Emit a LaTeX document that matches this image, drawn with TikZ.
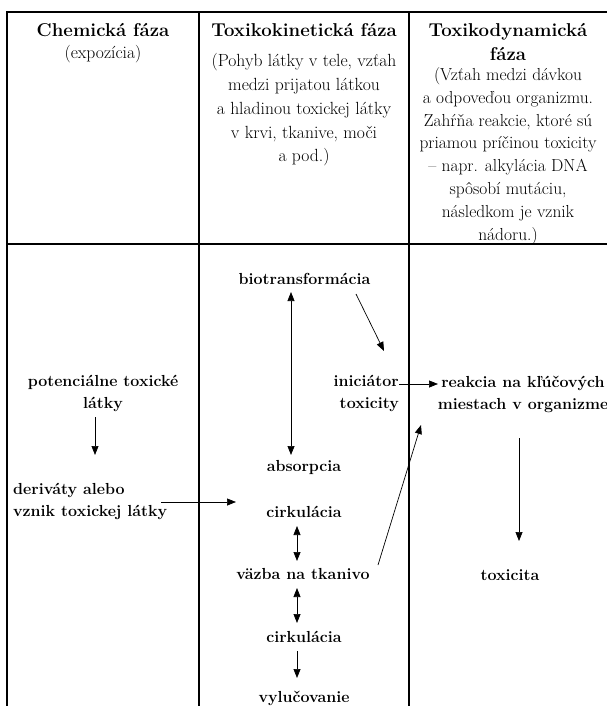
\documentclass[tikz,border=0pt]{standalone}
\usepackage{fontspec}
\usetikzlibrary{arrows.meta}
\begin{document}
\begin{tikzpicture}[x=1pt,y=-1pt]
\tikzset{
 gridline/.style={line width=1.1pt},
 title/.style={font=\bfseries\fontsize{18.6}{23.5}\selectfont, inner sep=0pt, align=center},
 sub/.style={font=\fontsize{17.6}{23.7}\selectfont, inner sep=0pt, align=center},
 subr/.style={font=\fontsize{17.4}{22.8}\selectfont, inner sep=0pt, align=center},
 lbl/.style={font=\bfseries\fontsize{16}{22}\selectfont, inner sep=0pt, align=center},
 tip/.tip={Triangle[length=9pt,width=7pt]},
 arr/.style={line width=0.7pt, -tip},
 darr/.style={line width=0.7pt, tip-tip},
}
\useasboundingbox (0,0) rectangle (607,706);
% table
\draw[gridline] (7,706) -- (7,12) -- (607,12);
\draw[gridline] (199,12) -- (199,706);
\draw[gridline] (409,12) -- (409,706);
\draw[gridline] (7,244) -- (607,244);
% header
\node[title] (h1) at (103,30.5) {Chemická fáza};
\node[sub] (h1s) at (103,54) {(expozícia)};
\node[title] (h2) at (304,30.5) {Toxikokinetická fáza};
\node[sub] (h2s) at (304,110) {(Pohyb látky v tele, vzťah\\medzi prijatou látkou\\a hladinou toxickej látky\\v krvi, tkanive, moči\\a pod.)};
\node[title] (h3) at (508,42) {Toxikodynamická\\fáza};
\node[subr] (h3s) at (508,156) {(Vzťah medzi dávkou\\a odpoveďou organizmu.\\Zahŕňa reakcie, ktoré sú\\priamou príčinou toxicity\\– napr. alkylácia DNA\\spôsobí mutáciu,\\následkom je vznik\\nádoru.)};
% body nodes
\node[lbl] (pot) at (103,393) {potenciálne toxické\\látky};
\node[lbl, align=left, anchor=west] (der) at (13,501) {deriváty alebo\\vznik toxickej látky};
\node[lbl] (bio) at (304.5,279) {biotransformácia};
\node[lbl] (abs) at (304,467) {absorpcia};
\node[lbl] (cir1) at (304,512) {cirkulácia};
\node[lbl] (vaz) at (303,574) {väzba na tkanivo};
\node[lbl] (cir2) at (304,637) {cirkulácia};
\node[lbl] (vyl) at (304,698) {vylučovanie};
\node[lbl, align=right, anchor=east] (ini) at (399,393) {iniciátor\\toxicity};
\node[lbl] (rea) at (523,394) {reakcia na kľúčových\\miestach v organizme};
\node[lbl] (tox) at (510,575) {toxicita};
% connector end points
\coordinate (a1s) at (95,417);  \coordinate (a1e) at (95,455);
\coordinate (a2s) at (161,502); \coordinate (a2e) at (236,502);
\coordinate (a3s) at (291,292); \coordinate (a3e) at (291,455);
\coordinate (a4s) at (297,526); \coordinate (a4e) at (297,561);
\coordinate (a5s) at (297,588); \coordinate (a5e) at (297,623);
\coordinate (a6s) at (297,651); \coordinate (a6e) at (297,678);
\coordinate (a7s) at (356,294); \coordinate (a7e) at (384,351);
\coordinate (a8s) at (399,384); \coordinate (a8e) at (438,384);
\coordinate (a9s) at (378,565); \coordinate (a9e) at (421,425);
\coordinate (a10s) at (519,438); \coordinate (a10e) at (519,541);
% connectors
\draw[arr] (a1s) -- (a1e);
\draw[arr] (a2s) -- (a2e);
\draw[darr] (a3s) -- (a3e);
\draw[darr] (a4s) -- (a4e);
\draw[darr] (a5s) -- (a5e);
\draw[arr] (a6s) -- (a6e);
\draw[arr] (a7s) -- (a7e);
\draw[arr] (a8s) -- (a8e);
\draw[arr] (a9s) -- (a9e);
\draw[arr] (a10s) -- (a10e);
\end{tikzpicture}
\end{document}
